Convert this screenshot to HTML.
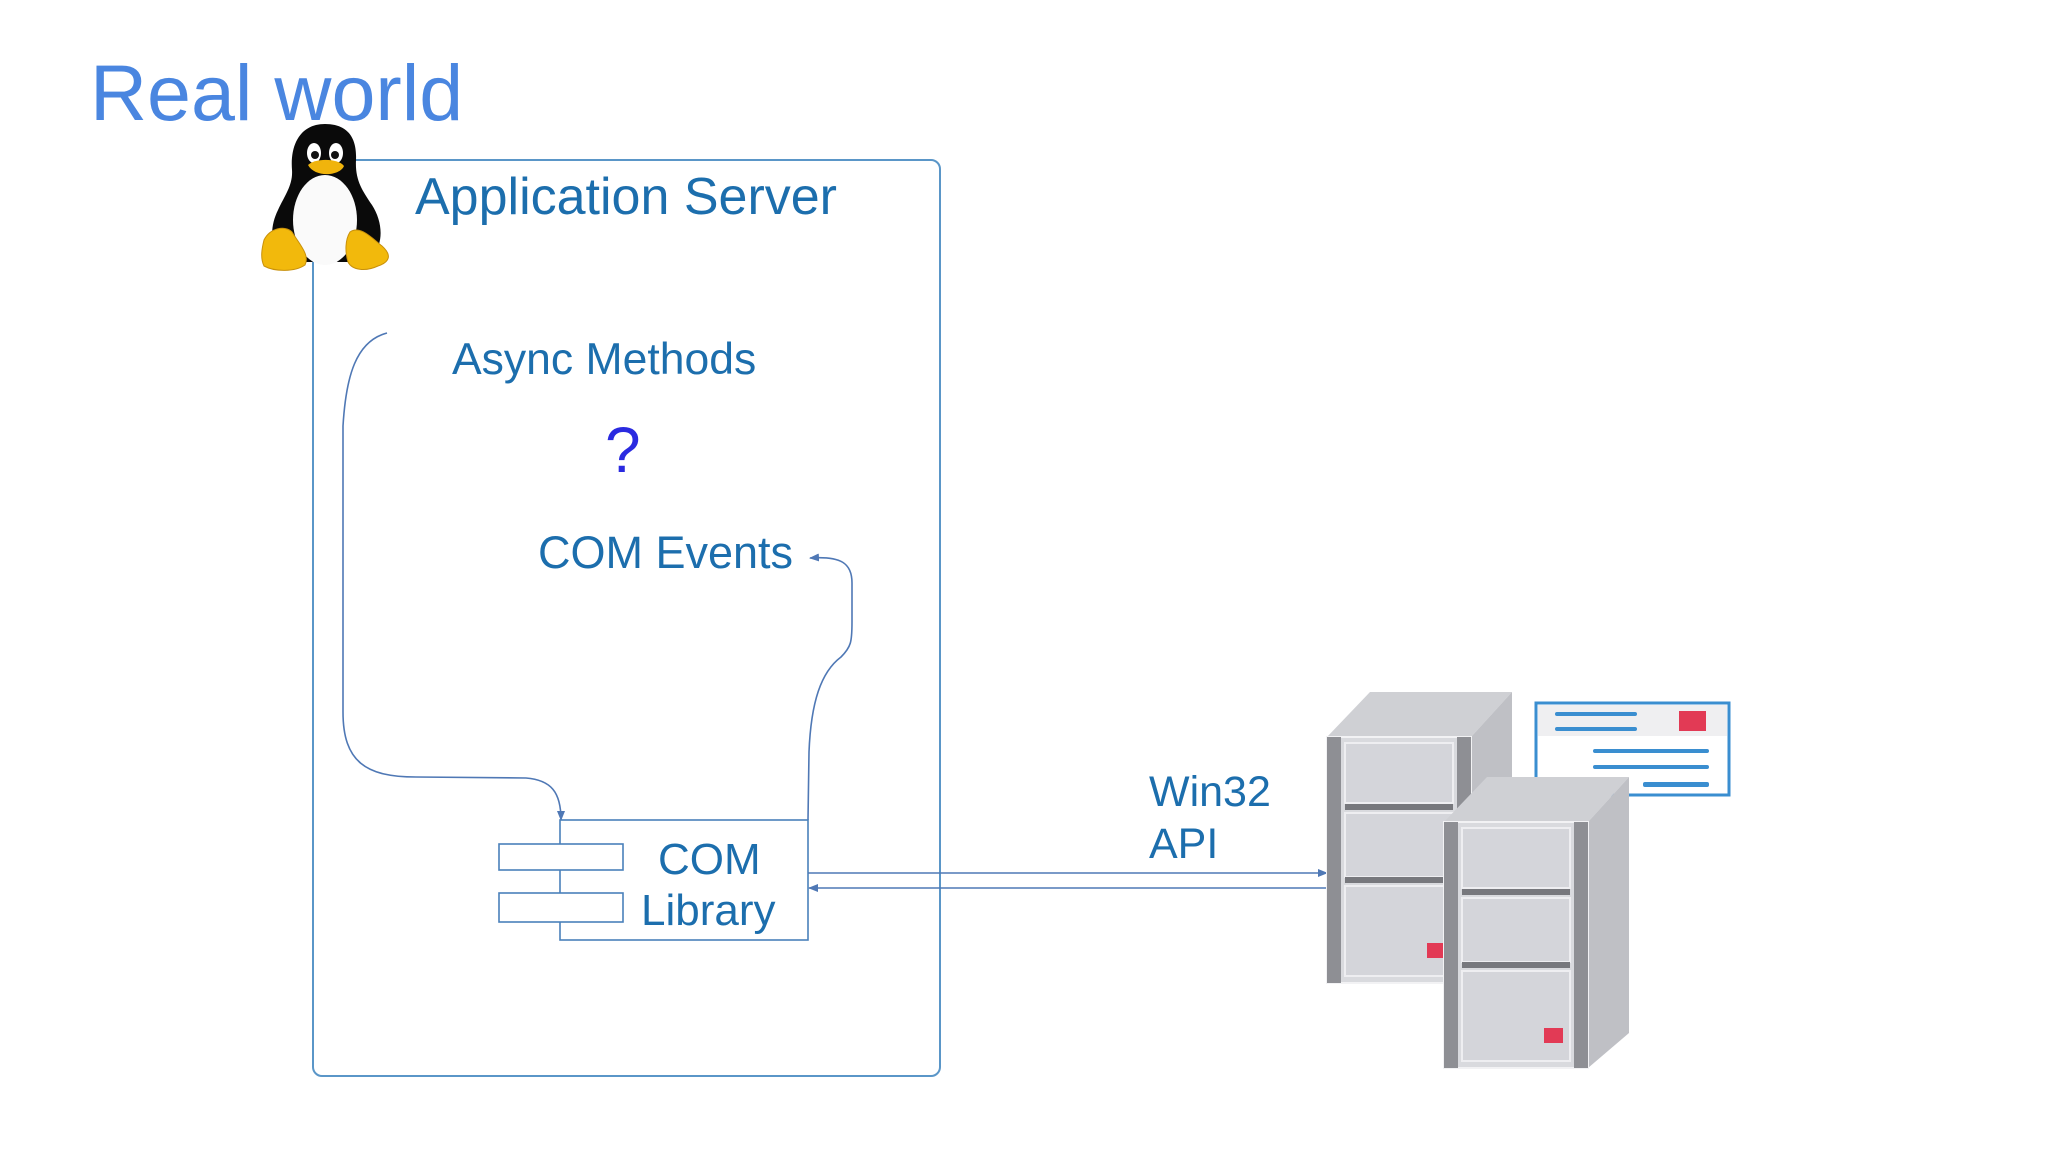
<!DOCTYPE html>
<html><head><meta charset="utf-8"><style>
html,body{margin:0;padding:0;background:#fff;}
svg{display:block;}
text{font-family:"Liberation Sans",sans-serif;}
</style></head><body>
<svg width="2048" height="1152" viewBox="0 0 2048 1152" xmlns="http://www.w3.org/2000/svg">
<defs>
<marker id="ah" markerWidth="10" markerHeight="8" refX="9" refY="4" orient="auto" markerUnits="userSpaceOnUse">
<path d="M0,0 L10,4 L0,8 Z" fill="#4f78b5"/>
</marker>
<g id="srv">
<polygon points="0,0 43,-45 185,-45 144,0" fill="#cfd0d4"/>
<polygon points="144,0 185,-45 185,211 144,246" fill="#bfc0c5"/>
<rect x="0" y="0" width="144" height="246" fill="#d9dade" stroke="#f2f2f4" stroke-width="2"/>
<rect x="0" y="0" width="14" height="246" fill="#8e8f94"/>
<rect x="130" y="0" width="14" height="246" fill="#8e8f94"/>
<rect x="18" y="6" width="108" height="60" fill="#d4d5da" stroke="#eeeef1" stroke-width="2"/>
<rect x="18" y="67" width="108" height="6" fill="#77787d"/>
<rect x="18" y="76" width="108" height="64" fill="#d4d5da" stroke="#eeeef1" stroke-width="2"/>
<rect x="18" y="140" width="108" height="6" fill="#77787d"/>
<rect x="18" y="149" width="108" height="90" fill="#d4d5da" stroke="#eeeef1" stroke-width="2"/>
<rect x="100" y="206" width="19" height="15" fill="#e23a55"/>
</g>
</defs>

<text x="90" y="120" font-size="79" fill="#4a86e0">Real world</text>

<rect x="313" y="160" width="627" height="916" rx="9" fill="none" stroke="#5a96c8" stroke-width="2"/>
<text x="415" y="214" font-size="52" fill="#1c6ead">Application Server</text>
<text x="452" y="374" font-size="44.5" fill="#1c6ead">Async Methods</text>
<text x="605" y="472" font-size="64" fill="#2a2ae0">?</text>
<text x="538" y="568" font-size="45" fill="#1c6ead">COM Events</text>

<path d="M387,333 C356,341 346,376 343,426 L343,712 C343,762 366,777 416,777 L526,778 C551,780 561,792 561,820" fill="none" stroke="#4f78b5" stroke-width="1.6" marker-end="url(#ah)"/>
<path d="M808,820 L809,752 C811,702 821,672 841,657 C851,647 852,642 852,622 L852,583 C852,563 841,556 810,558" fill="none" stroke="#4f78b5" stroke-width="1.6" marker-end="url(#ah)"/>

<rect x="560" y="820" width="248" height="120" fill="#fff" stroke="#4a80bb" stroke-width="1.6"/>
<rect x="499" y="844" width="124" height="26" fill="#fff" stroke="#4a80bb" stroke-width="1.6"/>
<rect x="499" y="893" width="124" height="29" fill="#fff" stroke="#4a80bb" stroke-width="1.6"/>
<text x="658" y="874" font-size="44" fill="#1c6ead">COM</text>
<text x="641" y="925" font-size="44" fill="#1c6ead">Library</text>

<line x1="808" y1="873" x2="1327" y2="873" stroke="#4f78b5" stroke-width="1.6" marker-end="url(#ah)"/>
<line x1="1327" y1="888" x2="809" y2="888" stroke="#4f78b5" stroke-width="1.6" marker-end="url(#ah)"/>
<text x="1149" y="806" font-size="43" fill="#1c6ead">Win32</text>
<text x="1149" y="858" font-size="43" fill="#1c6ead">API</text>

<rect x="1536" y="703" width="193" height="92" fill="#fff" stroke="#3a8ed0" stroke-width="3"/>
<rect x="1538" y="705" width="189" height="31" fill="#efeff1"/>
<rect x="1555" y="712" width="82" height="4" rx="2" fill="#3a8ed0"/>
<rect x="1555" y="727" width="82" height="4" rx="2" fill="#3a8ed0"/>
<rect x="1679" y="711" width="27" height="20" fill="#e23a55"/>
<rect x="1593" y="749" width="116" height="4" rx="2" fill="#3a8ed0"/>
<rect x="1593" y="765" width="116" height="4" rx="2" fill="#3a8ed0"/>
<rect x="1643" y="782" width="66" height="5" rx="2" fill="#3a8ed0"/>

<use href="#srv" x="1327" y="737"/>
<use href="#srv" x="1444" y="822"/>

<g>
<path d="M325,124 C300,124 290,145 292,170 C293,185 285,195 278,210 C268,230 270,255 290,262 L360,262 C385,255 385,225 372,205 C362,190 355,180 356,160 C357,138 348,124 325,124 Z" fill="#0a0a0a"/>
<ellipse cx="325" cy="220" rx="32" ry="45" fill="#fafafa"/>
<ellipse cx="314" cy="153" rx="7" ry="10" fill="#fff"/>
<ellipse cx="336" cy="153" rx="7" ry="10" fill="#fff"/>
<circle cx="315" cy="155" r="4" fill="#111"/>
<circle cx="335" cy="155" r="4" fill="#111"/>
<path d="M308,165 C315,158 338,158 344,166 C340,176 315,178 308,165 Z" fill="#f0b40c"/>
<path d="M264,240 C270,228 285,225 292,232 C300,245 310,255 305,265 C295,272 275,272 264,266 C260,258 262,248 264,240 Z" fill="#f2b90c" stroke="#c8900a" stroke-width="1"/>
<path d="M350,232 C360,225 372,238 382,246 C392,255 390,262 378,266 C365,272 352,270 348,262 C345,252 345,240 350,232 Z" fill="#f2b90c" stroke="#c8900a" stroke-width="1"/>
</g>
</svg>
</body></html>
